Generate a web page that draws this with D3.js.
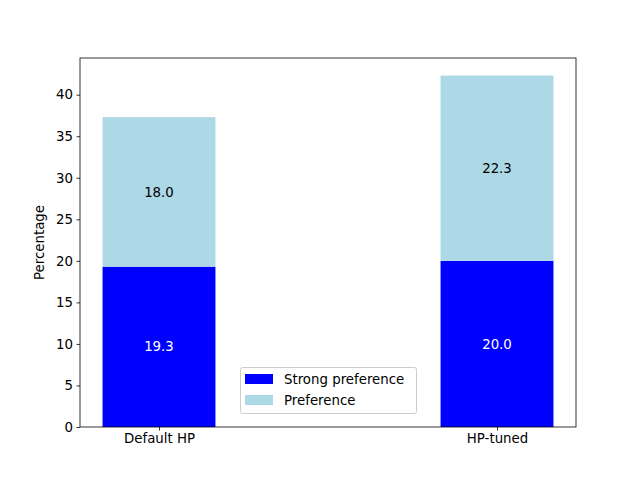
<!DOCTYPE html>
<html><head><meta charset="utf-8">
<script src="https://cdn.jsdelivr.net/npm/d3@7"></script>
<style>body{margin:0;background:#fff}svg{display:block}text{font-family:"DejaVu Sans",sans-serif}</style>
</head><body>
<svg id="c" width="640" height="480"></svg>
<script>
const categories = ["Default HP", "HP-tuned"];
const strongPref = [19.3, 20.0];
const pref = [18.0, 22.3];
const yTicks = [0, 5, 10, 15, 20, 25, 30, 35, 40];
const seriesNames = ["Strong preference", "Preference"];
const colors = ["#0000ff", "#add8e6"];

const FS = 13.33;
const svg = d3.select("#c");
const L = 80, R = 576, T = 58, B = 427;
const barW = 0.334;
const totals = strongPref.map((v, i) => v + pref[i]);
const ymax = d3.max(totals) * 1.05;
const x = d3.scaleLinear().domain([-barW/2 - 0.05*(1+barW), 1 + barW/2 + 0.05*(1+barW)]).range([L, R]);
const y = d3.scaleLinear().domain([0, ymax]).range([B, T]);

const g = svg.append("g");
categories.forEach((c, i) => {
  g.append("rect").attr("x", x(i - barW/2)).attr("width", x(i + barW/2) - x(i - barW/2))
    .attr("y", y(strongPref[i])).attr("height", y(0) - y(strongPref[i])).attr("fill", colors[0]);
  g.append("rect").attr("x", x(i - barW/2)).attr("width", x(i + barW/2) - x(i - barW/2))
    .attr("y", y(totals[i])).attr("height", y(strongPref[i]) - y(totals[i])).attr("fill", colors[1]);
  g.append("text").attr("x", x(i)).attr("y", y(strongPref[i]/2)).attr("dy", "0.35em")
    .attr("text-anchor", "middle").attr("font-size", FS).attr("fill", "#fff").text(strongPref[i].toFixed(1));
  g.append("text").attr("x", x(i)).attr("y", y(strongPref[i] + pref[i]/2)).attr("dy", "0.35em")
    .attr("text-anchor", "middle").attr("font-size", FS).attr("fill", "#000").text(pref[i].toFixed(1));
});

const yAxis = d3.axisLeft(y).tickValues(yTicks).tickSize(3.5).tickPadding(3.5).tickFormat(d3.format("d"));
const ya = svg.append("g").attr("transform", `translate(${L},0)`).call(yAxis);
const xAxis = d3.axisBottom(x).tickValues([0, 1]).tickSize(3.5).tickPadding(3.5).tickFormat(i => categories[i]);
const xa = svg.append("g").attr("transform", `translate(0,${B})`).call(xAxis);
[ya, xa].forEach(a => {
  a.select(".domain").remove();
  a.selectAll("text").attr("font-size", FS).attr("fill", "#000").style("font-family", "DejaVu Sans");
  a.selectAll("line").attr("stroke", "#000").attr("stroke-width", 0.8);
});
svg.append("rect").attr("x", L).attr("y", T).attr("width", R - L).attr("height", B - T)
  .attr("fill", "none").attr("stroke", "#000").attr("stroke-width", 0.8);

svg.append("text").attr("transform", `translate(44,${(T+B)/2}) rotate(-90)`)
  .attr("text-anchor", "middle").attr("font-size", FS).text("Percentage");

// legend
const lg = svg.append("g");
lg.append("rect").attr("x", 240.5).attr("y", 367.5).attr("width", 176).attr("height", 46).attr("rx", 2)
  .attr("fill", "#fff").attr("fill-opacity", 0.8).attr("stroke", "#ccc").attr("stroke-width", 1);
seriesNames.forEach((s, i) => {
  const yy = 379 + i * 21;
  lg.append("rect").attr("x", 245).attr("y", yy - 5).attr("width", 28).attr("height", 10).attr("fill", colors[i]);
  lg.append("text").attr("x", 284).attr("y", yy).attr("dy", "0.35em").attr("font-size", FS).text(s);
});
</script>
</body></html>
